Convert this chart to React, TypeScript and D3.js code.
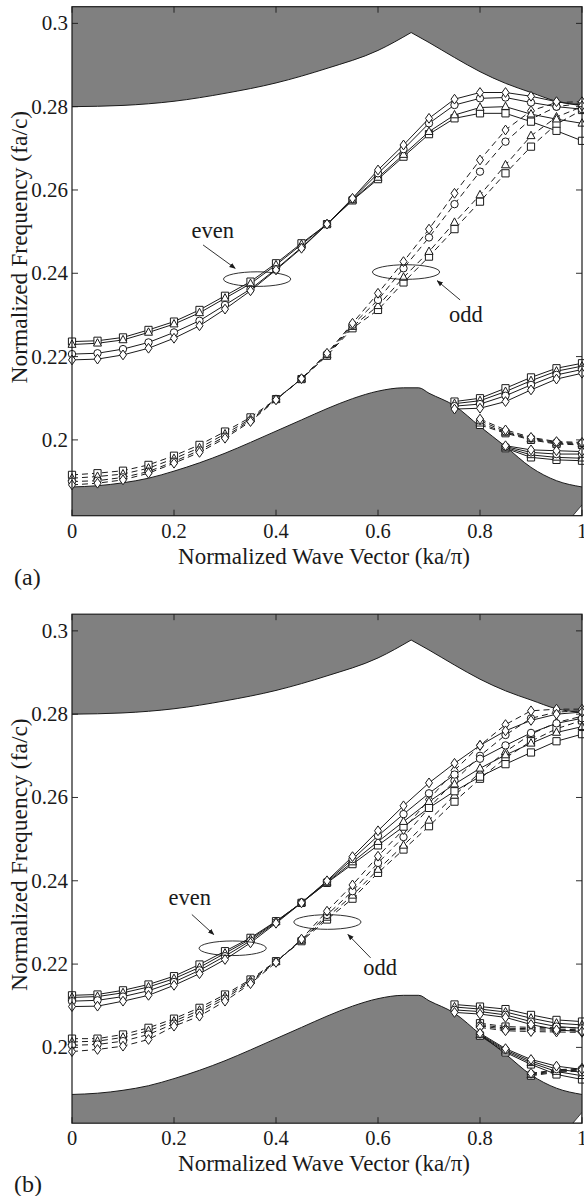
import React from 'react'
import * as d3 from 'd3'

// wave vector samples (ka/pi)
const kx = [0, 0.05, 0.1, 0.15, 0.2, 0.25, 0.3, 0.35, 0.4, 0.45, 0.5, 0.55, 0.6, 0.65, 0.7, 0.75, 0.8, 0.85, 0.9, 0.95, 1]
const kTail6 = [0.75, 0.8, 0.85, 0.9, 0.95, 1]
const kTail5 = [0.8, 0.85, 0.9, 0.95, 1]
const kTail4 = [0.85, 0.9, 0.95, 1]
const kTail3 = [0.9, 0.95, 1]

// grey regions (light cone / slab modes)
const upperLeftK = [0, 0.1, 0.2, 0.3, 0.4, 0.5, 0.6, 0.665]
const upperLeftF = [0.28, 0.2803, 0.2813, 0.2832, 0.2857, 0.2892, 0.2935, 0.2978]
const upperRightK = [0.665, 0.7, 0.75, 0.8, 0.85, 0.9, 0.95, 1]
const upperRightF = [0.2978, 0.2954, 0.2918, 0.2884, 0.2856, 0.2834, 0.2813, 0.2804]
const lowerK = [0, 0.05, 0.1, 0.15, 0.2, 0.25, 0.3, 0.35, 0.4, 0.45, 0.5, 0.55, 0.6, 0.65, 0.68, 0.7, 0.75, 0.8, 0.85, 0.9, 0.95, 1]
const lowerF = [0.1887, 0.189, 0.1897, 0.1908, 0.1925, 0.1945, 0.1968, 0.1994, 0.2021, 0.2048, 0.2075, 0.2099, 0.2117, 0.2125, 0.2125, 0.2112, 0.2082, 0.2032, 0.1984, 0.1934, 0.1902, 0.1887]

const markerKinds = ['square', 'triangle', 'circle', 'diamond']

// panel (a)
const aEvenA = [
  [0.2236, 0.2238, 0.2246, 0.2264, 0.2284, 0.2312, 0.2346, 0.238, 0.2424, 0.2472, 0.2518, 0.2575, 0.2626, 0.268, 0.2734, 0.2772, 0.2784, 0.2784, 0.2764, 0.2742, 0.2718],
  [0.2229, 0.2232, 0.224, 0.2258, 0.2278, 0.2305, 0.234, 0.2375, 0.242, 0.2469, 0.2518, 0.2576, 0.263, 0.2685, 0.274, 0.278, 0.2798, 0.28, 0.2782, 0.277, 0.276],
  [0.2206, 0.2208, 0.2218, 0.2234, 0.2258, 0.2286, 0.2324, 0.2362, 0.241, 0.2462, 0.2518, 0.2578, 0.264, 0.2698, 0.276, 0.2804, 0.282, 0.2822, 0.281, 0.28, 0.2794],
  [0.2192, 0.2194, 0.2204, 0.222, 0.2244, 0.2274, 0.2314, 0.2358, 0.2408, 0.246, 0.2518, 0.258, 0.2648, 0.2708, 0.2772, 0.2818, 0.2834, 0.2834, 0.2825, 0.2812, 0.2802],
]
const aOddA = [
  [0.1916, 0.192, 0.1926, 0.194, 0.1962, 0.1988, 0.202, 0.2054, 0.2098, 0.2146, 0.2202, 0.2268, 0.2312, 0.2378, 0.244, 0.2506, 0.2572, 0.264, 0.2704, 0.2758, 0.2792],
  [0.1908, 0.1912, 0.1918, 0.1932, 0.1955, 0.1981, 0.2014, 0.205, 0.2097, 0.2146, 0.2204, 0.2272, 0.2322, 0.239, 0.2452, 0.2522, 0.2588, 0.266, 0.273, 0.2775, 0.28],
  [0.19, 0.1902, 0.191, 0.1924, 0.1948, 0.1975, 0.2008, 0.2047, 0.2097, 0.2147, 0.2206, 0.2276, 0.2336, 0.2412, 0.2486, 0.2566, 0.2644, 0.2716, 0.277, 0.28, 0.2808],
  [0.1892, 0.1896, 0.1904, 0.192, 0.1944, 0.197, 0.2004, 0.2044, 0.2096, 0.2147, 0.2208, 0.228, 0.2352, 0.2428, 0.2506, 0.2592, 0.2672, 0.2744, 0.279, 0.281, 0.2812],
]
const aEvenB = [
  [0.2092, 0.21, 0.2124, 0.215, 0.2172, 0.2184],
  [0.2087, 0.2094, 0.2116, 0.2142, 0.2165, 0.2177],
  [0.2081, 0.2086, 0.2106, 0.2132, 0.2156, 0.2169],
  [0.2074, 0.2076, 0.2092, 0.212, 0.2146, 0.216],
]
const aOddB = [
  [0.2036, 0.2016, 0.2, 0.199, 0.1988],
  [0.204, 0.2018, 0.2002, 0.1992, 0.199],
  [0.2046, 0.202, 0.2004, 0.1994, 0.1992],
  [0.205, 0.2024, 0.2006, 0.1996, 0.1994],
]
const aEvenC = [
  [0.198, 0.1958, 0.1952, 0.195],
  [0.1982, 0.1964, 0.1958, 0.1956],
  [0.1984, 0.197, 0.1966, 0.1966],
  [0.1986, 0.1976, 0.1974, 0.1972],
]

// panel (b)
const bEvenA = [
  [0.2125, 0.2127, 0.2137, 0.2151, 0.2171, 0.2199, 0.2231, 0.2263, 0.2303, 0.2347, 0.2395, 0.244, 0.2485, 0.253, 0.2575, 0.2615, 0.265, 0.268, 0.2708, 0.2735, 0.2752],
  [0.212, 0.2122, 0.2131, 0.2145, 0.2165, 0.2192, 0.2226, 0.226, 0.2302, 0.2347, 0.2396, 0.2445, 0.2494, 0.2542, 0.259, 0.2632, 0.267, 0.2702, 0.273, 0.2756, 0.277],
  [0.2111, 0.2113, 0.2122, 0.2136, 0.2157, 0.2185, 0.2219, 0.2256, 0.23, 0.2348, 0.2398, 0.2452, 0.2508, 0.256, 0.261, 0.2655, 0.2693, 0.2725, 0.2755, 0.2778, 0.279],
  [0.2098, 0.2099, 0.2111, 0.2125, 0.2149, 0.2177, 0.2211, 0.2251, 0.2298, 0.2347, 0.24, 0.2458, 0.252, 0.258, 0.2635, 0.2682, 0.2725, 0.276, 0.2785, 0.28, 0.2805],
]
const bOddA = [
  [0.2021, 0.2021, 0.2031, 0.2047, 0.2069, 0.2095, 0.2127, 0.2163, 0.2207, 0.2255, 0.2307, 0.2357, 0.2419, 0.2475, 0.2531, 0.259, 0.2645, 0.2695, 0.2735, 0.2765, 0.2785],
  [0.2013, 0.2015, 0.2024, 0.204, 0.2063, 0.2089, 0.2122, 0.216, 0.2206, 0.2257, 0.2312, 0.2365, 0.2427, 0.2485, 0.2545, 0.2605, 0.266, 0.271, 0.2752, 0.278, 0.2795],
  [0.2005, 0.2007, 0.2015, 0.2031, 0.2057, 0.2083, 0.2117, 0.2157, 0.2205, 0.2258, 0.2318, 0.2375, 0.2443, 0.2505, 0.2575, 0.264, 0.27, 0.275, 0.279, 0.2805, 0.2808],
  [0.199, 0.1995, 0.2003, 0.2019, 0.2051, 0.2075, 0.2111, 0.2153, 0.2204, 0.226, 0.2327, 0.239, 0.2459, 0.2523, 0.2595, 0.2665, 0.2725, 0.2775, 0.2808, 0.2812, 0.2812],
]
const bEvenB = [
  [0.2103, 0.2098, 0.2092, 0.2078, 0.2066, 0.2062],
  [0.2097, 0.2092, 0.2085, 0.207, 0.2058, 0.2054],
  [0.209, 0.2086, 0.2078, 0.2062, 0.205, 0.2046],
  [0.2084, 0.208, 0.2072, 0.2055, 0.2042, 0.2038],
]
const bOddB = [
  [0.2058, 0.205, 0.2048, 0.2048, 0.2046],
  [0.2055, 0.2046, 0.2045, 0.2044, 0.2042],
  [0.2052, 0.2043, 0.2042, 0.2041, 0.204],
  [0.2048, 0.204, 0.2038, 0.2037, 0.2036],
]
const bEvenC = [
  [0.2028, 0.1988, 0.1959, 0.1935, 0.1923],
  [0.203, 0.1991, 0.1963, 0.1942, 0.1932],
  [0.2032, 0.1994, 0.1967, 0.1948, 0.194],
  [0.2034, 0.1997, 0.1971, 0.1955, 0.1947],
]
const bOddC = [
  [0.1932, 0.194, 0.1944],
  [0.1934, 0.1942, 0.1946],
  [0.1936, 0.1944, 0.1948],
  [0.1938, 0.1946, 0.195],
]

const xTicks = [0, 0.2, 0.4, 0.6, 0.8, 1]
const yTicks = [0.2, 0.22, 0.24, 0.26, 0.28, 0.3]

const panels = [
  {
    tag: '(a)',
    shift: 0,
    bands: [
      { k: kx, vals: aOddA, dashed: true },
      { k: kTail5, vals: aOddB, dashed: true },
      { k: kx, vals: aEvenA, dashed: false },
      { k: kTail6, vals: aEvenB, dashed: false },
      { k: kTail4, vals: aEvenC, dashed: false },
    ],
    notes: [
      { text: 'even', tx: 0.276, tf: 0.2485, cx: 0.363, cf: 0.2386, ax: [0.257, 0.2468], bx: [0.32, 0.2412] },
      { text: 'odd', tx: 0.7725, tf: 0.2284, cx: 0.655, cf: 0.2403, ax: [0.761, 0.2336], bx: [0.716, 0.2382] },
    ],
  },
  {
    tag: '(b)',
    shift: 607.5,
    bands: [
      { k: kx, vals: bOddA, dashed: true },
      { k: kTail5, vals: bOddB, dashed: true },
      { k: kTail3, vals: bOddC, dashed: true },
      { k: kx, vals: bEvenA, dashed: false },
      { k: kTail6, vals: bEvenB, dashed: false },
      { k: kTail5, vals: bEvenC, dashed: false },
    ],
    notes: [
      { text: 'even', tx: 0.231, tf: 0.2343, cx: 0.315, cf: 0.2238, ax: [0.235, 0.2319], bx: [0.278, 0.2271] },
      { text: 'odd', tx: 0.604, tf: 0.2173, cx: 0.5008, cf: 0.2301, ax: [0.5855, 0.2215], bx: [0.541, 0.2271] },
    ],
  },
]

const FONT = 'Liberation Serif, Times New Roman, serif'
const INK = '#1a1a1a'
const GREY = '#808080'

function markerPath(kind: string) {
  if (kind === 'square') return 'M-3.6,-3.6H3.6V3.6H-3.6Z'
  if (kind === 'triangle') return 'M0,-4.6L4,2.8H-4Z'
  if (kind === 'diamond') return 'M0,-4.9L3.5,0L0,4.9L-3.5,0Z'
  return 'M3.7,0A3.7,3.7 0 1 1 -3.7,0A3.7,3.7 0 1 1 3.7,0Z'
}

function Panel({ p }: { p: any }) {
  const x = d3.scaleLinear().domain([0, 1]).range([72, 582])
  const y = d3.scaleLinear().domain([0.1818, 0.304]).range([515.7 + p.shift, 6.7 + p.shift])
  const [x0, x1] = x.range()
  const [yb, yt] = y.range()

  const branch = (ks: number[], fs: number[]) =>
    d3.line<number>().x((_, i) => x(ks[i])).y(f => y(f)).curve(d3.curveMonotoneX)(fs) || ''
  const upperCurve = branch(upperLeftK, upperLeftF) + branch(upperRightK, upperRightF).replace(/^M/, 'L')
  const upperFill = `M${x0},${yt}` + upperCurve.replace(/^M/, 'L') + `L${x1},${yt}Z`

  const lowerArea = d3.area<number>()
    .x((_, i) => x(lowerK[i])).y0(yb).y1(f => y(f)).curve(d3.curveMonotoneX)(lowerF) || ''
  const lowerLine = d3.line<number>()
    .x((_, i) => x(lowerK[i])).y(f => y(f)).curve(d3.curveMonotoneX)(lowerF) || ''

  const yMid = (yt + yb) / 2 - 14
  const markerId = `arr${p.tag.replace(/\W/g, '')}`
  const txt = { fontFamily: FONT, fill: INK }

  return (
    <g>
      <defs>
        <marker id={markerId} viewBox="0 0 10 10" refX="9" refY="5" markerWidth="7" markerHeight="7" orient="auto">
          <path d="M0,1L10,5L0,9Z" fill={INK} />
        </marker>
        <clipPath id={`clip${markerId}`}>
          <rect x={x0} y={yt} width={x1 - x0} height={yb - yt} />
        </clipPath>
      </defs>

      <g clipPath={`url(#clip${markerId})`}>
        <path d={upperFill} fill={GREY} />
        <path d={upperCurve} fill="none" stroke={INK} strokeWidth={1} />
        <path d={lowerArea} fill={GREY} />
        <path d={lowerLine} fill="none" stroke={INK} strokeWidth={1} />
        <path
          d={`M${x(0.982)},${yb}L${x1},${y(0.1844)}L${x1},${yb}Z`}
          fill="#fff" stroke={INK} strokeWidth={0.8}
        />
        {p.bands.map((b: any, bi: number) =>
          b.vals.map((vs: number[], si: number) => (
            <path
              key={`l${bi}-${si}`}
              d={d3.line<number>().x((_, i) => x(b.k[i])).y(v => y(v))(vs) || ''}
              fill="none"
              stroke={INK}
              strokeWidth={1}
              strokeDasharray={b.dashed ? '6,4' : undefined}
            />
          ))
        )}
      </g>

      {p.bands.map((b: any, bi: number) =>
        b.vals.map((vs: number[], si: number) =>
          vs.map((v, i) => (
            <path
              key={`m${bi}-${si}-${i}`}
              d={markerPath(markerKinds[si])}
              transform={`translate(${x(b.k[i])},${y(v)})`}
              fill="#fff"
              stroke={INK}
              strokeWidth={1}
            />
          ))
        )
      )}

      {/* annotations */}
      {p.notes.map((n: any) => (
        <g key={n.text}>
          <ellipse cx={x(n.cx)} cy={y(n.cf)} rx={33.6} ry={7.3} fill="none" stroke={INK} strokeWidth={0.9} />
          <line
            x1={x(n.ax[0])} y1={y(n.ax[1])} x2={x(n.bx[0])} y2={y(n.bx[1])}
            stroke={INK} strokeWidth={0.9} markerEnd={`url(#${markerId})`}
          />
          <text x={x(n.tx)} y={y(n.tf)} textAnchor="middle" fontSize={22.5} style={txt}>
            {n.text}
          </text>
        </g>
      ))}

      {/* frame and ticks */}
      <rect x={x0} y={yt} width={x1 - x0} height={yb - yt} fill="none" stroke={INK} strokeWidth={1.2} />
      {yTicks.map(t => (
        <g key={`y${t}`}>
          <line x1={x0} x2={x0 + 6} y1={y(t)} y2={y(t)} stroke={INK} strokeWidth={0.9} />
          <line x1={x1} x2={x1 - 6} y1={y(t)} y2={y(t)} stroke={INK} strokeWidth={0.9} />
          <text x={x0 - 4} y={y(t) + 7} textAnchor="end" fontSize={21} style={txt}>
            {String(t)}
          </text>
        </g>
      ))}
      {xTicks.map(t => (
        <g key={`x${t}`}>
          <line x1={x(t)} x2={x(t)} y1={yb} y2={yb - 6} stroke={INK} strokeWidth={0.9} />
          <line x1={x(t)} x2={x(t)} y1={yt} y2={yt + 6} stroke={INK} strokeWidth={0.9} />
          <text x={x(t)} y={yb + 22} textAnchor="middle" fontSize={20.5} style={txt}>
            {String(t)}
          </text>
        </g>
      ))}

      <text x={(x0 + x1) / 2 - 3} y={yb + 48} textAnchor="middle" fontSize={23} style={txt}>
        Normalized Wave Vector (ka/π)
      </text>
      <text
        transform={`translate(27,${yMid}) rotate(-90)`}
        textAnchor="middle" fontSize={23.5} style={txt}
      >
        Normalized Frequency (fa/c)
      </text>
      <text x={14} y={yb + 69} fontSize={24} style={txt}>
        {p.tag}
      </text>
    </g>
  )
}

export default function App() {
  return (
    <svg
      width={584}
      height={1196}
      viewBox="0 0 584 1196"
      style={{ position: 'absolute', left: 0, top: 0, background: '#fff' }}
    >
      <rect width={584} height={1196} fill="#fff" />
      {panels.map(p => <Panel key={p.tag} p={p} />)}
    </svg>
  )
}
